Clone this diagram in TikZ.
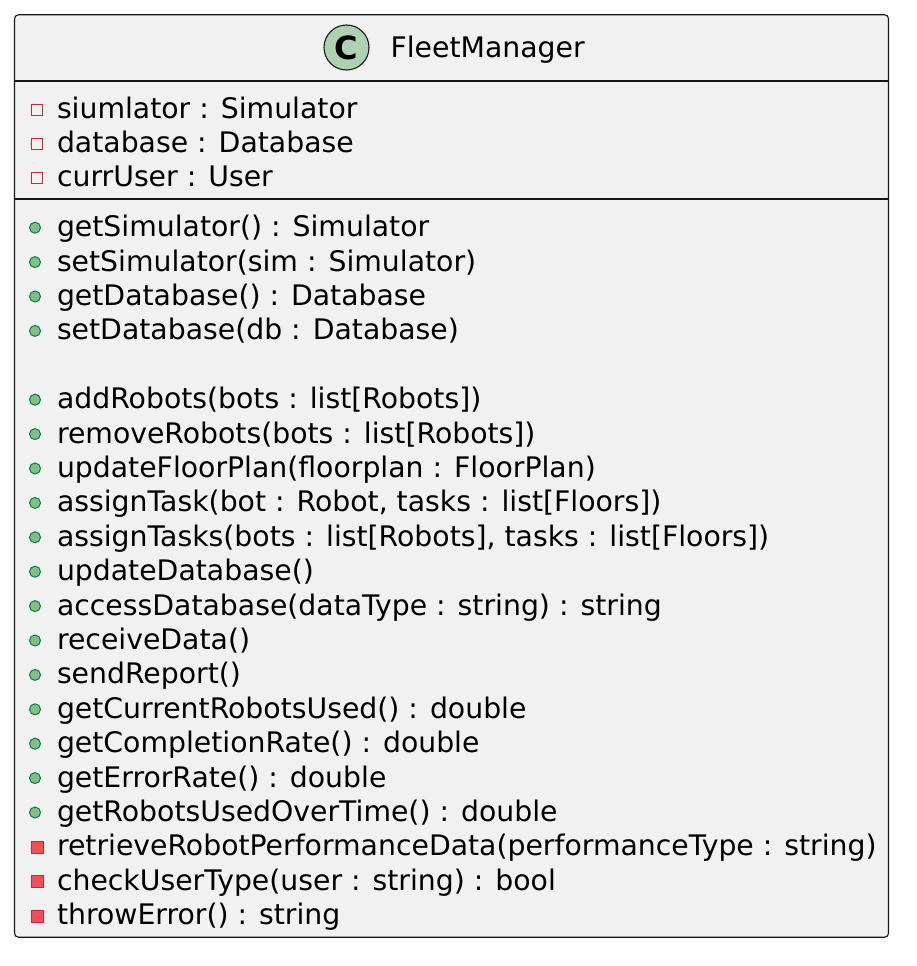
\documentclass[tikz,border=0pt]{standalone}
\usepackage{fontspec}
\setmainfont{DejaVu Sans}
\usetikzlibrary{positioning}
\definecolor{boxfill}{HTML}{F1F1F1}
\definecolor{boxline}{HTML}{181818}
\definecolor{classicon}{HTML}{ADD1B2}
\definecolor{privline}{HTML}{C82930}
\definecolor{privfill}{HTML}{F24D5C}
\definecolor{publine}{HTML}{038048}
\definecolor{pubfill}{HTML}{84BE84}

\begin{document}
\begin{tikzpicture}[x=1pt, y=-1pt,
  classbox/.style={draw=boxline, fill=boxfill, rounded corners=4pt, line width=1.1pt, inner sep=0pt},
  divider/.style={draw=boxline, line width=1.1pt},
  member/.style={inner sep=0pt, outer sep=0pt, text height=20pt, text depth=0pt, font=\fontsize{28.3pt}{34pt}\selectfont},
  privattr/.style={member, label={[draw=privline, line width=1pt, minimum size=11pt, inner sep=0pt, label distance=14pt, yshift=-1.5pt]left:{}}},
  pubop/.style={member, label={[circle, draw=publine, fill=pubfill, line width=1pt, minimum size=11pt, inner sep=0pt, label distance=16pt, yshift=-1pt]left:{}}},
  privop/.style={member, label={[draw=privline, fill=privfill, line width=1pt, minimum size=12pt, inner sep=0pt, label distance=13pt, yshift=-1.5pt]left:{}}},
  next/.style={below=14.4pt of #1.south west, anchor=north west}
]
\useasboundingbox (0,0) rectangle (916,966);

\node[classbox, minimum width=874pt, minimum height=922.5pt] (fm) at (451.5,476) {};
\draw[divider] (fm.west |- 0,81) -- (fm.east |- 0,81);
\draw[divider] (fm.west |- 0,199) -- (fm.east |- 0,199);

% header
\node[circle, draw=boxline, fill=classicon, line width=1.1pt, minimum size=45pt, inner sep=0pt, font=\fontsize{32pt}{32pt}\selectfont\bfseries] (icon) at (346.5,47.5) {C};
\node[member, right=21pt of icon] (name) {FleetManager};

% attributes
\node[privattr, anchor=base west] (a1) at (57,118) {siumlator : Simulator};
\node[privattr, next=a1] (a2) {database : Database};
\node[privattr, next=a2] (a3) {currUser : User};

% operations
\node[pubop, anchor=base west] (m1) at (57,236.7) {getSimulator() : Simulator};
\node[pubop, next=m1] (m2) {setSimulator(sim : Simulator)};
\node[pubop, next=m2] (m3) {getDatabase() : Database};
\node[pubop, next=m3] (m4) {setDatabase(db : Database)};

\node[pubop, below=48.8pt of m4.south west, anchor=north west] (m5) {addRobots(bots : list[Robots])};
\node[pubop, next=m5] (m6) {removeRobots(bots : list[Robots])};
\node[pubop, next=m6] (m7) {updateFloorPlan(floorplan : FloorPlan)};
\node[pubop, next=m7] (m8) {assignTask(bot : Robot, tasks : list[Floors])};
\node[pubop, next=m8] (m9) {assignTasks(bots : list[Robots], tasks : list[Floors])};
\node[pubop, next=m9] (m10) {updateDatabase()};
\node[pubop, next=m10] (m11) {accessDatabase(dataType : string) : string};
\node[pubop, next=m11] (m12) {receiveData()};
\node[pubop, next=m12] (m13) {sendReport()};
\node[pubop, next=m13] (m14) {getCurrentRobotsUsed() : double};
\node[pubop, next=m14] (m15) {getCompletionRate() : double};
\node[pubop, next=m15] (m16) {getErrorRate() : double};
\node[pubop, next=m16] (m17) {getRobotsUsedOverTime() : double};
\node[privop, next=m17] (m18) {retrieveRobotPerformanceData(performanceType : string)};
\node[privop, next=m18] (m19) {checkUserType(user : string) : bool};
\node[privop, next=m19] (m20) {throwError() : string};

\end{tikzpicture}
\end{document}
